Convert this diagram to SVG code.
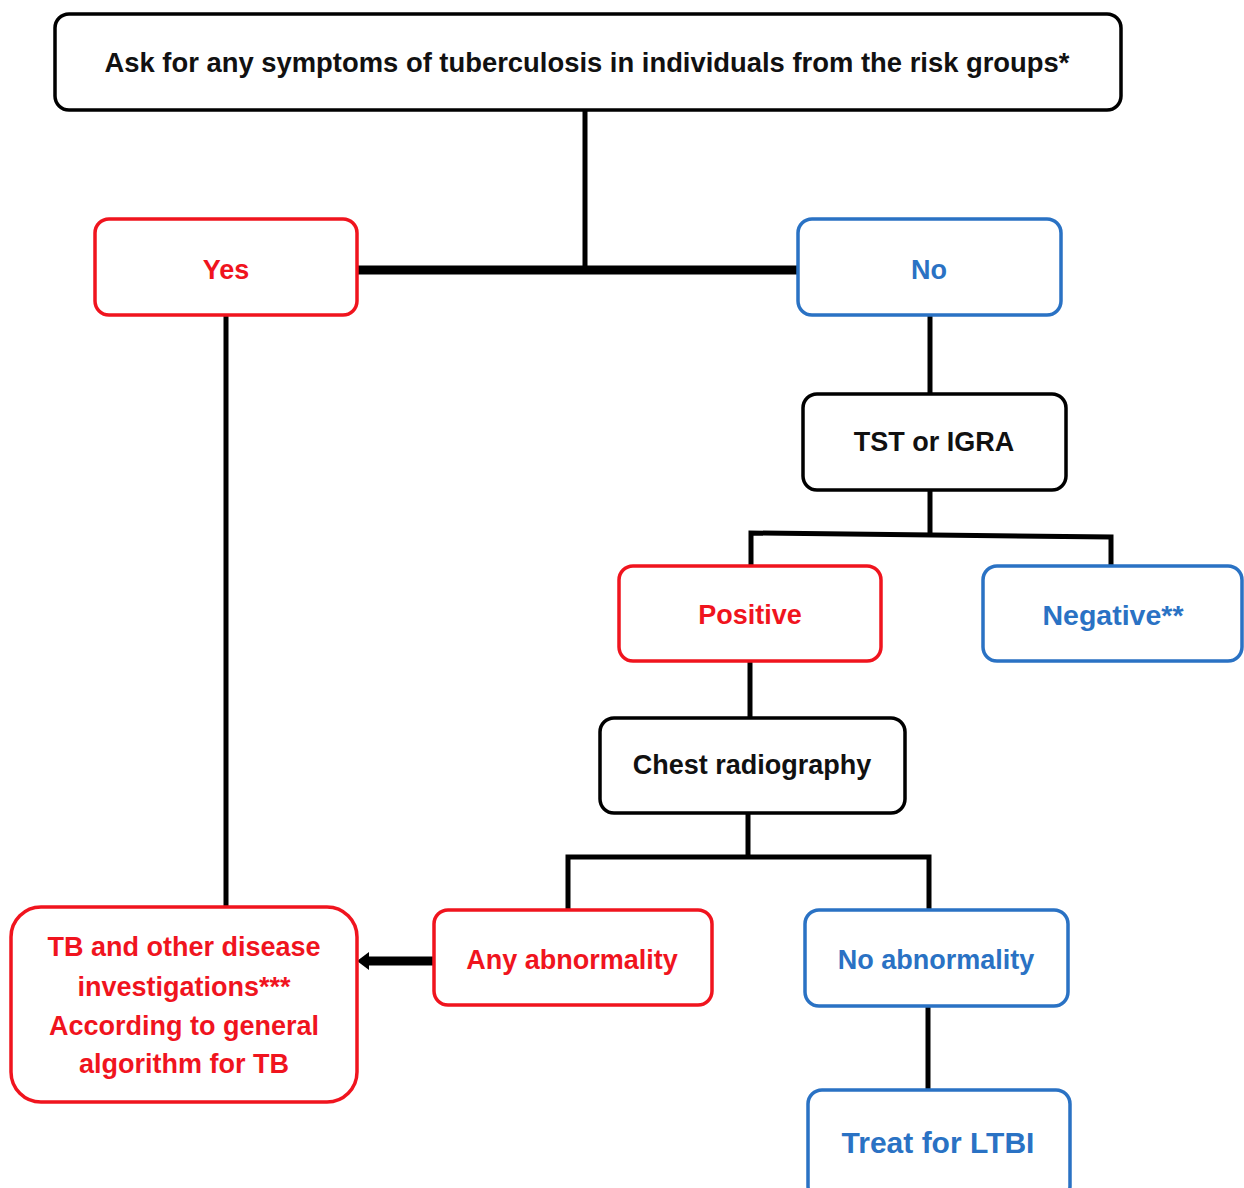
<svg xmlns="http://www.w3.org/2000/svg" width="1244" height="1188" viewBox="0 0 1244 1188">
<style>
.box{fill:#fff;stroke-width:3.5}
.k{stroke:#000}
.r{stroke:#f0141e}
.b{stroke:#2a72c4}
text{font-family:"Liberation Sans",Arial,sans-serif;font-weight:bold;font-size:27px;text-anchor:middle;dominant-baseline:central}
.tk{fill:#111}
.tr{fill:#f0141e}
.tb{fill:#2a72c4}
.ln{stroke:#000;stroke-width:5;fill:none}
</style>
<g id="connectors">
<path class="ln" d="M585,110 V270"/>
<path d="M357,270 H800" stroke="#000" stroke-width="9"/>
<path class="ln" d="M226,315 V907"/>
<path class="ln" d="M930,315 V394"/>
<path class="ln" d="M930,490 V533"/>
<path class="ln" d="M751,566 V533 L1111,537 V566"/>
<path class="ln" d="M750,661 V718"/>
<path class="ln" d="M748,813 V857"/>
<path class="ln" d="M568,910 V857 H929 V910"/>
<path class="ln" d="M928,1006 V1090"/>
<path d="M434,961 H366" stroke="#000" stroke-width="9"/>
<polygon points="357,961 369,952 369,970" fill="#000"/>
</g>
<g id="top"><rect class="box k" x="55" y="14" width="1066" height="96" rx="14"/><text class="tk" x="587" y="62" style="font-size:27.4px">Ask for any symptoms of tuberculosis in individuals from the risk groups*</text></g>
<g id="yes"><rect class="box r" x="95" y="219" width="262" height="96" rx="14"/><text class="tr" x="226" y="270">Yes</text></g>
<g id="no"><rect class="box b" x="798" y="219" width="263" height="96" rx="14"/><text class="tb" x="929" y="270">No</text></g>
<g id="tst"><rect class="box k" x="803" y="394" width="263" height="96" rx="14"/><text class="tk" x="934" y="442">TST or IGRA</text></g>
<g id="positive"><rect class="box r" x="619" y="566" width="262" height="95" rx="14"/><text class="tr" x="750" y="615">Positive</text></g>
<g id="negative"><rect class="box b" x="983" y="566" width="259" height="95" rx="14"/><text class="tb" x="1113" y="615" style="font-size:28.5px">Negative**</text></g>
<g id="chest"><rect class="box k" x="600" y="718" width="305" height="95" rx="14"/><text class="tk" x="752" y="765">Chest radiography</text></g>
<g id="anyab"><rect class="box r" x="434" y="910" width="278" height="95" rx="14"/><text class="tr" x="572" y="960">Any abnormality</text></g>
<g id="noab"><rect class="box b" x="805" y="910" width="263" height="96" rx="14"/><text class="tb" x="936" y="960">No abnormality</text></g>
<g id="ltbi"><rect class="box b" x="808" y="1090" width="262" height="110" rx="14"/><text class="tb" x="938" y="1142" style="font-size:30px">Treat for LTBI</text></g>
<g id="tbinv"><rect class="box r" x="11" y="907" width="346" height="195" rx="30"/>
<text class="tr" x="184" y="947">TB and other disease</text>
<text class="tr" x="184" y="987">investigations***</text>
<text class="tr" x="184" y="1026">According to general</text>
<text class="tr" x="184" y="1064">algorithm for TB</text></g>
</svg>
